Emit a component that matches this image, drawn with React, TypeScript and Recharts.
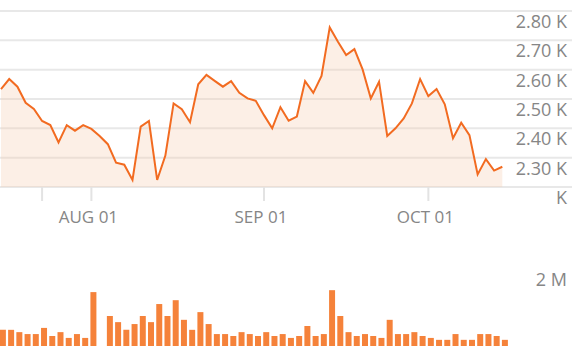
import React from 'react';
import { ComposedChart, Area, Bar, XAxis, YAxis, CartesianGrid } from 'recharts';

// trading days shown (MM-DD, 2023)
const dates = [
  '07-17', '07-18', '07-19', '07-20', '07-21', '07-24', '07-25', '07-26', '07-27', '07-28', '07-31',
  '08-01', '08-02', '08-03', '08-04', '08-07', '08-08', '08-09', '08-10', '08-11', '08-14', '08-16',
  '08-17', '08-18', '08-21', '08-22', '08-23', '08-24', '08-25', '08-28', '08-29', '08-31',
  '09-01', '09-04', '09-05', '09-06', '09-07', '09-08', '09-11', '09-12', '09-13', '09-14', '09-15',
  '09-18', '09-20', '09-21', '09-22', '09-25', '09-26', '09-27', '09-28', '09-29',
  '10-02', '10-03', '10-04', '10-05', '10-06', '10-09', '10-10', '10-11', '10-12', '10-13',
];

const closes = [
  2534, 2568, 2542, 2487, 2466, 2425, 2411, 2352, 2411, 2392, 2411,
  2398, 2374, 2346, 2283, 2276, 2224, 2406, 2425, 2224, 2307, 2485,
  2465, 2421, 2550, 2582, 2562, 2542, 2561, 2521, 2502, 2494,
  2445, 2400, 2472, 2426, 2440, 2561, 2521, 2579, 2744, 2695, 2650,
  2670, 2601, 2502, 2559, 2374, 2400, 2434, 2485, 2568,
  2510, 2534, 2482, 2366, 2419, 2377, 2243, 2295, 2256, 2269,
];

// volume in millions of shares (null = no print)
const volumes = [
  0.42, 0.42, 0.36, 0.31, 0.31, 0.47, 0.26, 0.36, 0.21, 0.31, 0.21,
  1.40, null, 0.78, 0.62, 0.42, 0.57, 0.78, 0.62, 1.09, 0.78, 1.19,
  0.68, 0.42, 0.88, 0.57, 0.31, 0.31, 0.26, 0.36, 0.31, 0.26,
  0.36, 0.26, 0.31, 0.21, 0.26, 0.52, 0.26, 0.31, 1.45, 0.78, 0.36,
  0.26, 0.31, 0.26, 0.21, 0.68, 0.31, 0.31, 0.36, 0.26,
  0.21, 0.16, 0.16, 0.31, 0.16, 0.16, 0.31, 0.31, 0.26, 0.16,
];

const priceTicks = [2200, 2300, 2400, 2500, 2600, 2700, 2800];
const priceTickLabels = ['K', '2.30 K', '2.40 K', '2.50 K', '2.60 K', '2.70 K', '2.80 K'];
const xTickIdx = [5, 11, 32, 52];
const xTickLabels = ['', 'AUG 01', 'SEP 01', 'OCT 01'];
const volTicks = [2];
const volTickLabels = ['2 M'];

const data = dates.map((d, i) => ({ idx: i, date: d, close: closes[i], volume: volumes[i] }));

const FONT = '"Open Sans", sans-serif';
const LABEL = '#868686';
const ORANGE = '#f26b21';
const LABEL_RIGHT = 567;

const PriceTick = ({ y, payload }: any) => {
  const label = priceTickLabels[priceTicks.indexOf(payload.value)];
  return (
    <text x={LABEL_RIGHT} y={y + 17} textAnchor="end" fill={LABEL} fontSize={18} fontFamily={FONT}>
      {label}
    </text>
  );
};

const DateTick = ({ x, y, payload }: any) => {
  const label = xTickLabels[xTickIdx.indexOf(payload.value)];
  return (
    <text x={x - 3} y={y + 22} textAnchor="middle" fill={LABEL} fontSize={17} fontFamily={FONT}>
      {label}
    </text>
  );
};

const VolTick = ({ y, payload }: any) => {
  const label = volTickLabels[volTicks.indexOf(payload.value)];
  return (
    <text x={LABEL_RIGHT} y={y + 17} textAnchor="end" fill={LABEL} fontSize={18} fontFamily={FONT}>
      {label}
    </text>
  );
};

export default function App() {
  return (
    <div style={{ position: 'absolute', left: 0, top: 0, width: 572, height: 356, background: '#fff' }}>
      <ComposedChart width={572} height={230} data={data} margin={{ top: 11, right: 0, bottom: 0, left: 0 }}>
        <CartesianGrid vertical={false} stroke="#e8e8e8" strokeWidth={2} />
        <XAxis
          dataKey="idx"
          type="number"
          domain={[-0.122, 69.48]}
          ticks={xTickIdx}
          interval={0}
          height={43}
          axisLine={false}
          tickLine={{ stroke: '#e3e3e3', strokeWidth: 2 }}
          tickSize={14}
          tickMargin={0}
          tick={<DateTick />}
        />
        <YAxis
          orientation="right"
          mirror
          domain={[2200, 2800]}
          ticks={priceTicks}
          interval={0}
          width={60}
          axisLine={false}
          tickLine={false}
          tick={<PriceTick />}
          allowDataOverflow
        />
        <Area
          type="linear"
          dataKey="close"
          stroke={ORANGE}
          strokeWidth={2}
          fill="#f6c9ad"
          fillOpacity={0.3}
          dot={false}
          activeDot={false}
          isAnimationActive={false}
        />
      </ComposedChart>
      <ComposedChart width={572} height={126} data={data} margin={{ top: 39, right: 0, bottom: 10, left: 0 }}>
        <XAxis dataKey="idx" type="number" domain={[-0.3645, 69.14]} hide />
        <YAxis
          orientation="right"
          mirror
          domain={[0, 2]}
          ticks={volTicks}
          interval={0}
          width={60}
          axisLine={false}
          tickLine={false}
          tick={<VolTick />}
        />
        <Bar dataKey="volume" fill="#f5823a" barSize={6} isAnimationActive={false} />
      </ComposedChart>
    </div>
  );
}
